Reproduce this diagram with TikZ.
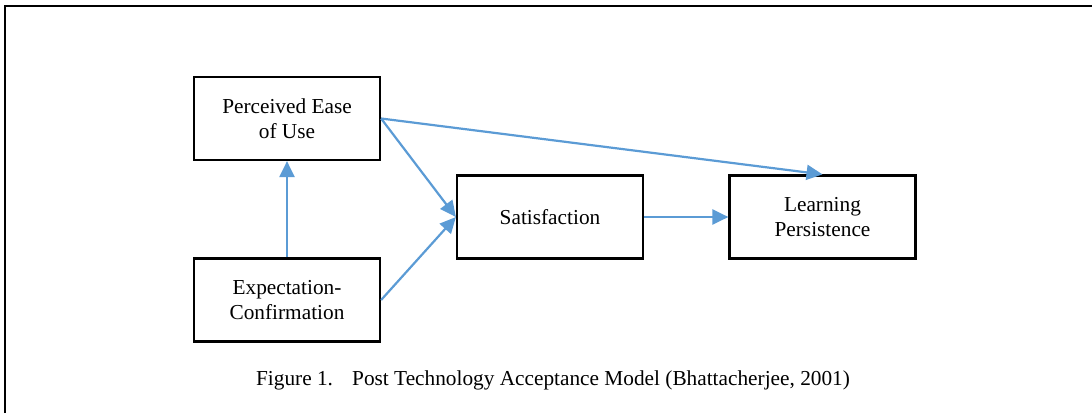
\documentclass[tikz,border=0pt]{standalone}
\usepackage{fontspec}
\setmainfont{Liberation Serif}
\usepackage{tikz}
\usetikzlibrary{arrows.meta}
\definecolor{linkblue}{HTML}{5B9BD5}

\tikzset{
  factor/.style={draw, line width=1.1pt, minimum width=93pt, minimum height=41.5pt,
    align=center, font=\fontsize{10.65}{12.5}\selectfont},
  link/.style={draw=linkblue, line width=1.1pt, -{Triangle[length=8pt,width=7.5pt]}}
}

\begin{document}
\begin{tikzpicture}[x=0.5pt, y=-0.5pt]
\useasboundingbox (0,0) rectangle (1092,413);
% outer frame
\draw[line width=1pt] (5,413) -- (5,6) -- (1092,6);

\node[factor] (peou) at (287,118.5) {Perceived Ease\\of Use};
\node[factor] (ec) at (287,300) {Expectation-\\Confirmation};
\node[factor] (sat) at (550,217) {Satisfaction};
\node[factor] (lp) at (822.5,217) {Learning\\Persistence};

\draw[link] (ec.north) -- (peou.south);
\draw[link] (peou.east) -- (sat.west);
\draw[link] (ec.east) -- (sat.west);
\draw[link] (sat.east) -- (lp.west);
\draw[link] (peou.east) -- (lp.north);

\node[anchor=base, font=\fontsize{10.65}{12.5}\selectfont] (cap) at (553,385)
  {Figure 1.\hspace{0.9em}Post Technology Acceptance Model (Bhattacherjee, 2001)};

\end{tikzpicture}
\end{document}
